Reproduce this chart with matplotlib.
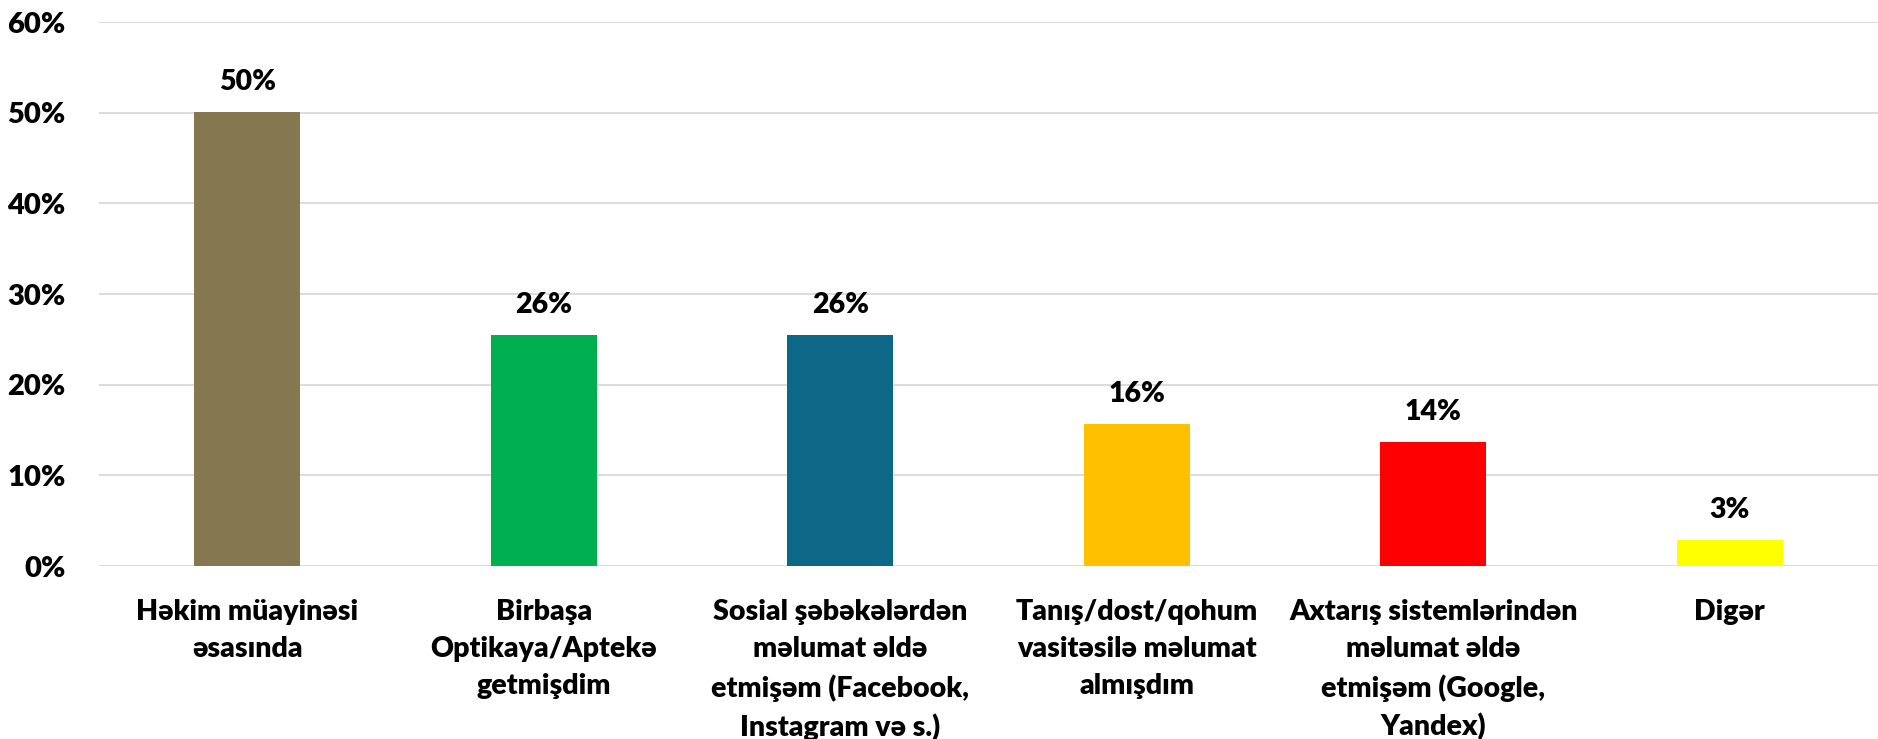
import matplotlib
matplotlib.use('Agg')
from matplotlib import pyplot as plt
from matplotlib.ticker import FuncFormatter

plt.rcParams['font.family'] = ['Lato', 'DejaVu Sans']
plt.rcParams['font.weight'] = 'heavy'

# kateqoriyalar və faizlər
categories = ['Həkim müayinəsi\nəsasında',
              'Birbaşa\nOptikaya/Aptekə\ngetmişdim',
              'Sosial şəbəkələrdən\nməlumat əldə\netmişəm (Facebook,\nInstagram və s.)',
              'Tanış/dost/qohum\nvasitəsilə məlumat\nalmışdım',
              'Axtarış sistemlərindən\nməlumat əldə\netmişəm (Google,\nYandex)',
              'Digər']
values = [50.1, 25.5, 25.5, 15.7, 13.7, 2.9]
value_labels = ['50%', '26%', '26%', '16%', '14%', '3%']
bar_colors = ['#857750', '#00B050', '#0C6886', '#FFC000', '#FF0000', '#FFFF00']
yticks = [0, 10, 20, 30, 40, 50, 60]

fig = plt.figure(figsize=(18.78, 7.39), dpi=100)
ax = fig.add_axes([0.0527, 0.234, 0.9473, 0.736])

x = range(len(categories))
bars = ax.bar(x, values, width=0.357, color=bar_colors, zorder=3)

for b, lab in zip(bars, value_labels):
    ax.annotate(lab, (b.get_x() + b.get_width() / 2, b.get_height()),
                xytext=(0, 12), textcoords='offset points',
                ha='center', va='bottom', fontsize=20.5, fontweight='heavy')

ax.set_xlim(-0.5, len(categories) - 0.5)
ax.set_ylim(0, 60)
ax.set_yticks(yticks)
ax.yaxis.set_major_formatter(FuncFormatter(lambda v, p: '%d%%' % v))
ax.set_xticks(list(x))
ax.set_xticklabels(categories, fontsize=20.5, fontweight='heavy', linespacing=1.52, va='top')

ax.grid(axis='y', color='#D9D9D9', linewidth=1.3, zorder=0)
for s in ax.spines.values():
    s.set_visible(False)
ax.tick_params(axis='y', length=0, pad=24, labelsize=21)
ax.tick_params(axis='x', length=0, pad=24)
for t in ax.get_yticklabels():
    t.set_fontweight('heavy')

plt.savefig('out.png', dpi=100)
